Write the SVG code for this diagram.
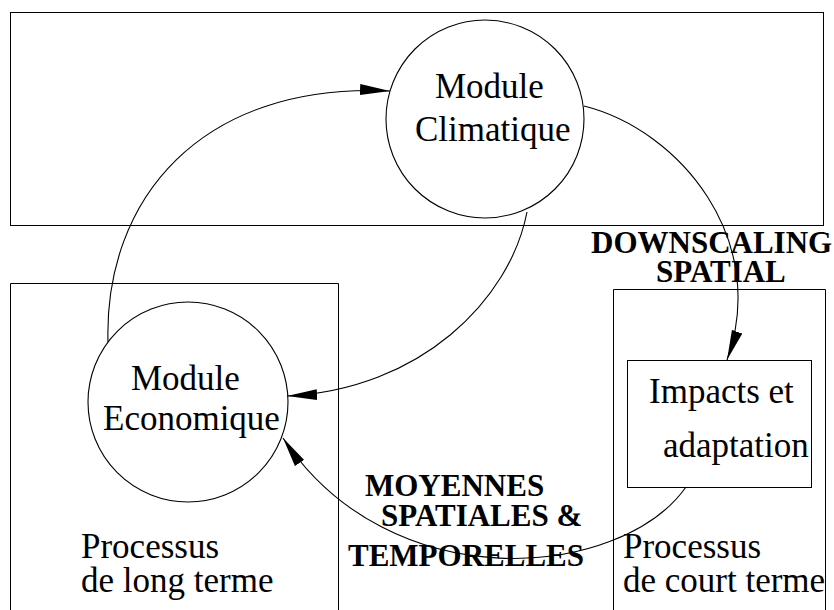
<svg xmlns="http://www.w3.org/2000/svg" width="834" height="610" viewBox="0 0 834 610">
<defs>
<style>
.box{fill:none;stroke:#000;stroke-width:1}
.node{fill:none;stroke:#000;stroke-width:1.1}
.edge{fill:none;stroke:#000;stroke-width:1.1}
.t{font-family:"Liberation Serif","Times New Roman",serif;font-size:35px;fill:#000}
.b{font-family:"Liberation Serif","Times New Roman",serif;font-size:31px;font-weight:bold;fill:#000}
</style>
<marker id="arr" markerUnits="userSpaceOnUse" markerWidth="30" markerHeight="12" refX="30" refY="6" orient="auto" viewBox="0 0 30 12">
<path d="M0,0.5 L30,6 L0,11.5 z" fill="#000"/>
</marker>
</defs>
<g id="box-top"><rect class="box" x="10.5" y="12.5" width="813" height="213"/></g>
<g id="box-long"><path class="box" d="M10.5,610 V283.5 H338.5 V610"/>
<text class="t" x="81" y="558">Processus</text>
<text class="t" x="81" y="592">de long terme</text></g>
<g id="box-court"><path class="box" d="M613.5,610 V289.5 H825.5 V610"/>
<text class="t" x="623" y="558">Processus</text>
<text class="t" x="623" y="592">de court terme</text></g>
<g id="climatique"><circle class="node" cx="485" cy="119" r="99"/>
<text class="t" x="435" y="98">Module</text>
<text class="t" x="415" y="141">Climatique</text></g>
<g id="economique"><circle class="node" cx="188" cy="402" r="100"/>
<text class="t" x="131" y="390">Module</text>
<text class="t" x="103" y="430">Economique</text></g>
<g id="impacts"><rect class="box" x="627.5" y="360.5" width="184" height="127"/>
<text class="t" x="649" y="403">Impacts et</text>
<text class="t" x="663" y="457">adaptation</text></g>
<g id="connectors">
<path class="edge" d="M108,342 C104,200 200,82 390,91" marker-end="url(#arr)"/>
<path class="edge" d="M584,106 C680,130 770,240 727,360" marker-end="url(#arr)"/>
<path class="edge" d="M527,212 C510,300 420,390 287,396" marker-end="url(#arr)"/>
<path class="edge" d="M686,487 C620,580 390,600 283,438" marker-end="url(#arr)"/>
</g>
<g id="labels">
<text class="b" x="591" y="253">DOWNSCALING</text>
<text class="b" x="656" y="282">SPATIAL</text>
<text class="b" x="365" y="496">MOYENNES</text>
<text class="b" x="381" y="526">SPATIALES &amp;</text>
<text class="b" x="348" y="566">TEMPORELLES</text>
</g>
</svg>
